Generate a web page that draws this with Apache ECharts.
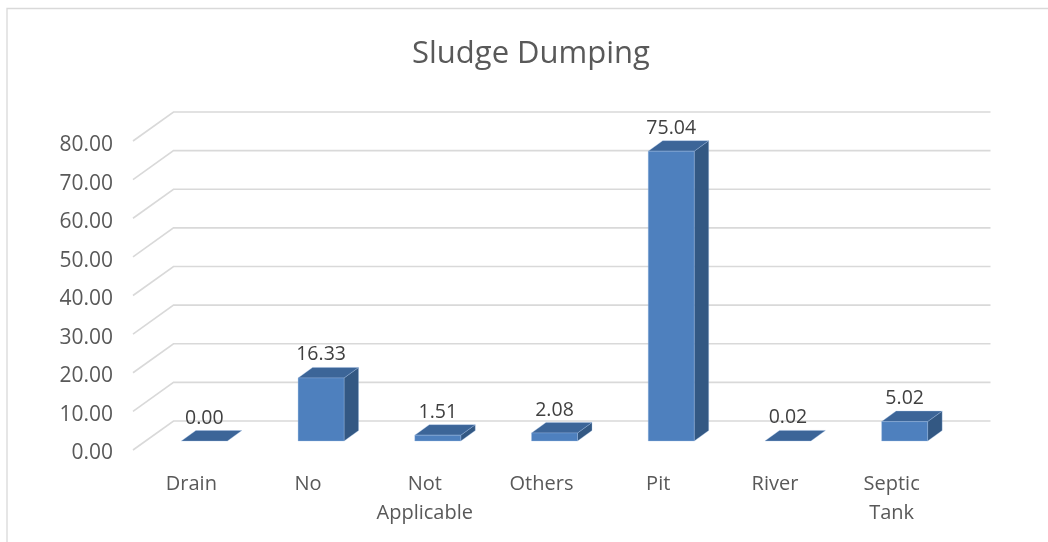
<!DOCTYPE html>
<html>
<head>
<meta charset="utf-8">
<script src="https://cdn.jsdelivr.net/npm/echarts@6/dist/echarts.min.js"></script>
<style>html,body{margin:0;padding:0;background:#fff}#c{width:1048px;height:542px}</style>
</head>
<body>
<div id="c"></div>
<script>
const titleText = 'Sludge Dumping';
const categories = ['Drain', 'No', 'Not\nApplicable', 'Others', 'Pit', 'River', 'Septic\nTank'];
const values = [0.00, 16.33, 1.51, 2.08, 75.04, 0.02, 5.02];
const yTicks = [0, 10, 20, 30, 40, 50, 60, 70, 80];

const FONT = "'Open Sans', 'Liberation Sans', sans-serif";
// pseudo-3D offsets relative to the bar front plane
const FRONT = [-13, 9];
const BACK = [27.5, -20];
const BAR_D = [14.5, -10.5];

const chart = echarts.init(document.getElementById('c'));
chart.setOption({
  backgroundColor: '#ffffff',
  animation: false,
  textStyle: { fontFamily: FONT },
  title: {
    text: titleText,
    left: 407, top: 34,
    textStyle: { fontFamily: FONT, fontSize: 31, fontWeight: 'normal', color: '#595959' }
  },
  graphic: [{
    type: 'rect', silent: true,
    shape: { x: 7, y: 8.5, width: 1100, height: 600 },
    style: { fill: 'none', stroke: '#d9d9d9', lineWidth: 1.3 }
  }],
  grid: [
    { left: 146, right: 85, top: 132, bottom: 101 },
    { left: 133, right: 98, top: 145.5, bottom: 88.5 }
  ],
  xAxis: [
    { gridIndex: 0, type: 'category', data: categories, show: false },
    {
      gridIndex: 1, type: 'category', data: categories,
      axisLine: { show: false }, axisTick: { show: false },
      axisLabel: { fontSize: 20, lineHeight: 29, color: '#595959', margin: 16, interval: 0, fontFamily: FONT }
    }
  ],
  yAxis: [
    { gridIndex: 0, type: 'value', min: 0, max: 80, interval: 10, show: false },
    {
      gridIndex: 1, type: 'value', min: 0, max: 80, interval: 10,
      axisLine: { show: false }, axisTick: { show: false }, splitLine: { show: false },
      axisLabel: { fontSize: 21, color: '#595959', margin: 20, fontFamily: FONT,
        formatter: v => v.toFixed(2) }
    }
  ],
  series: [
    {
      type: 'custom', xAxisIndex: 0, yAxisIndex: 0, z: 1, silent: true,
      data: yTicks.map(v => [0, v]),
      renderItem: (params, api) => {
        const cs = params.coordSys;
        const y = api.coord([0, api.value(1)])[1];
        const x0 = cs.x, x1 = cs.x + cs.width;
        return {
          type: 'polyline',
          shape: { points: [[x0 + FRONT[0], y + FRONT[1]], [x0 + BACK[0], y + BACK[1]], [x1 + BACK[0], y + BACK[1]]] },
          style: { stroke: '#d9d9d9', lineWidth: 1.6, fill: null }
        };
      }
    },
    {
      type: 'custom', xAxisIndex: 0, yAxisIndex: 0, z: 2,
      data: values.map((v, i) => [i, v]),
      renderItem: (params, api) => {
        const i = api.value(0), v = api.value(1);
        const top = api.coord([i, v]);
        const bot = api.coord([i, 0]);
        const bw = api.size([1, 0])[0] * 0.394;
        const xl = top[0] - bw / 2, xr = top[0] + bw / 2;
        const ty = top[1], by = bot[1];
        const dx = BAR_D[0], dy = BAR_D[1];
        const edge = 'rgba(160,190,230,0.55)';
        const children = [];
        if (by - ty > 0.8) {
          children.push({ type: 'polygon', shape: { points: [[xr, ty], [xr + dx, ty + dy], [xr + dx, by + dy], [xr, by]] },
            style: { fill: '#335883', stroke: edge, lineWidth: 0.6 } });
        }
        children.push({ type: 'polygon', shape: { points: [[xl, ty], [xr, ty], [xr + dx, ty + dy], [xl + dx, ty + dy]] },
          style: { fill: '#3c6598', stroke: edge, lineWidth: 0.6 } });
        if (by - ty > 0.8) {
          children.push({ type: 'polygon', shape: { points: [[xl, ty], [xr, ty], [xr, by], [xl, by]] },
            style: { fill: '#4e80be', stroke: edge, lineWidth: 0.6 } });
        }
        children.push({ type: 'text', style: {
          text: v.toFixed(2), x: top[0], y: ty + dy - 12.5,
          align: 'center', verticalAlign: 'middle',
          fontSize: 19.5, fontFamily: FONT, fill: '#404040'
        } });
        return { type: 'group', children };
      }
    }
  ]
});
</script>
</body>
</html>
